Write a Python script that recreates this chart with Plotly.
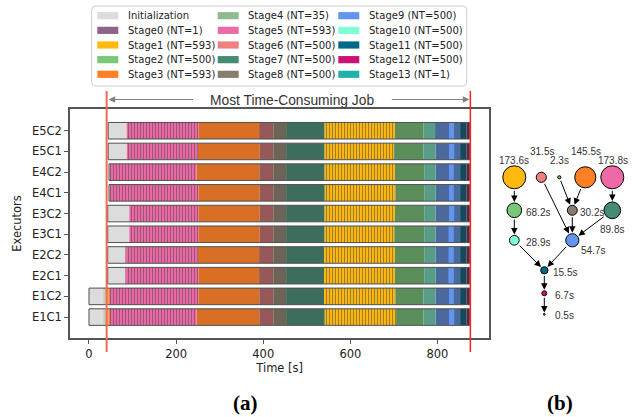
import plotly.graph_objects as go

# ---------------- data ----------------
executors = ["E1C1", "E1C2", "E2C1", "E2C2", "E3C1", "E3C2", "E4C1", "E4C2", "E5C1", "E5C2"]

stages = ["Initialization", "Stage0", "Stage1", "Stage2", "Stage3", "Stage4", "Stage5",
          "Stage6", "Stage7", "Stage8", "Stage9", "Stage10", "Stage11", "Stage12", "Stage13"]
num_tasks = [None, 1, 593, 500, 593, 35, 593, 500, 500, 500, 500, 500, 500, 500, 1]
stage_colors = ["#dcdcdc", "#8b638b", "#ffb90f", "#78c878", "#ff7f24", "#8fbc8f", "#ee6aa7",
                "#f08080", "#458b74", "#8b7d6b", "#6495ed", "#7fffd4", "#00688b", "#cd1076", "#20b2aa"]

# order in which stages run on every executor
stage_sequence = ["Initialization", "Stage5", "Stage3", "Stage6", "Stage8", "Stage7", "Stage1",
                  "Stage2", "Stage10", "Stage9", "Stage11", "Stage12", "Stage13"]

# stage boundaries per executor [s]
boundaries = {
    "E5C2": [44, 86.5, 251, 390.5, 423, 452.5, 540.5, 702.5, 767.5, 794.5, 852, 867, 873, 874.5],
    "E5C1": [44, 87, 250, 392, 423, 452.5, 540.5, 700.5, 768, 796, 852, 867, 873, 874.5],
    "E4C2": [46, 48, 247, 391, 423, 452.5, 540.5, 702.5, 769.5, 796, 852, 867, 873, 874.5],
    "E4C1": [46, 48, 251, 392, 423, 452.5, 541, 703.5, 769.5, 796, 852, 867, 873, 874.5],
    "E3C2": [43, 92.5, 251, 392, 423, 452.5, 540.5, 702.5, 769.5, 796, 852, 867, 873, 874.5],
    "E3C1": [43, 92.5, 251, 392, 423, 452.5, 540.5, 701, 769.5, 796, 852, 867, 873, 874.5],
    "E2C2": [43, 83.5, 250, 390.5, 423, 452.5, 539.5, 702.5, 769.5, 796, 852, 867, 873, 874.5],
    "E2C1": [43, 83.5, 251, 390.5, 423, 452.5, 539.5, 702.5, 769.5, 796, 852, 867, 873, 874.5],
    "E1C2": [0, 46, 251, 391, 423, 452.5, 539.5, 703.5, 768, 796, 852, 867, 873, 874.5],
    "E1C1": [0, 46, 247, 391, 423, 452.5, 541, 705, 768, 796, 852, 867, 873, 874.5],
}

# extra blocks drawn on top: (executor, stage, start, end, many_short_tasks)
extra_blocks = [
    ("E1C2", "Initialization", 33, 38.5, 1), ("E1C2", "Stage1", 38.5, 46, 0),
    ("E1C1", "Initialization", 33, 40.5, 1), ("E1C1", "Stage1", 40.5, 46, 0),
    ("E5C2", "Stage9", 826.5, 838, 0), ("E5C1", "Stage9", 826.5, 838.5, 0),
    ("E4C2", "Stage9", 826.5, 837.5, 0), ("E4C1", "Stage9", 826.5, 837.5, 0),
    ("E3C2", "Stage9", 826.5, 838.5, 0), ("E3C1", "Stage9", 825.5, 837.5, 0),
    ("E2C2", "Stage9", 825.5, 837.5, 0), ("E2C1", "Stage9", 825, 837.5, 0),
    ("E1C2", "Stage9", 826.5, 837.5, 0), ("E1C1", "Stage9", 826.5, 838.5, 0),
]

job_start, job_end = 40.5, 875.5
x_ticks = [0, 200, 400, 600, 800]

# stage DAG (panel b)
dag_nodes = ["Stage1", "Stage6", "Stage4", "Stage3", "Stage5", "Stage2", "Stage8", "Stage7",
             "Stage10", "Stage9", "Stage11", "Stage12", "Stage13"]
dag_time = [173.6, 31.5, 2.3, 145.5, 173.8, 68.2, 30.2, 89.8, 28.9, 54.7, 15.5, 6.7, 0.5]
dag_x = [0, 2.7, 4.5, 7.1, 9.8, 0, 5.8, 9.8, 0, 5.8, 3.0, 3.0, 3.0]
dag_y = [0, 0, 0, 0, 0, 3.3, 3.3, 3.3, 6.3, 6.3, 9.3, 11.6, 13.7]
dag_edges = [("Stage1", "Stage2"), ("Stage2", "Stage10"), ("Stage10", "Stage11"),
             ("Stage6", "Stage9"), ("Stage4", "Stage8"), ("Stage3", "Stage8"),
             ("Stage5", "Stage7"), ("Stage8", "Stage9"), ("Stage7", "Stage9"),
             ("Stage9", "Stage11"), ("Stage11", "Stage12"), ("Stage12", "Stage13")]

# ---------------- style ----------------
W, H = 641, 417
DARK = (40, 40, 40)
shade = {"Initialization": 0.1, "Stage0": 0.3, "Stage1": 0.16, "Stage2": 0.36, "Stage3": 0.18,
         "Stage4": 0.3, "Stage5": 0.17, "Stage6": 0.45, "Stage7": 0.3, "Stage8": 0.3,
         "Stage9": 0.4, "Stage10": 0.45, "Stage11": 0.47, "Stage12": 0.6, "Stage13": 0.3}
striped = {"Stage5": (3, 0.35, 0.02, 0.45), "Stage1": (3, 0.35, 0.02, 0.45)}
color_of = dict(zip(stages, stage_colors))


def mix(hexc, k):
    rgb = [int(hexc[i:i + 2], 16) for i in (1, 3, 5)]
    return "#%02x%02x%02x" % tuple(round(c * (1 - k) + d * k) for c, d in zip(rgb, DARK))


def px(x):
    return x / W


def py(y):
    return 1 - y / H


fig = go.Figure()

# collect segments
main = []
for ex in executors:
    b = boundaries[ex]
    for i, st in enumerate(stage_sequence):
        main.append((ex, st, b[i], b[i + 1], 0 if st == "Initialization" else 1))


def add_segments(segs):
    for st in stages:
        pts = [s for s in segs if s[1] == st]
        if not pts:
            continue
        cols, shapes, fgs, sizes, sols = [], [], [], [], []
        for s in pts:
            c = color_of[st]
            if s[4] and st in striped:
                sz, sol, kb, kf = striped[st]
                cols.append(mix(c, kb)); shapes.append("|"); fgs.append(mix(c, kf))
                sizes.append(sz); sols.append(sol)
            else:
                cols.append(mix(c, shade[st]) if s[4] else c)
                shapes.append(""); fgs.append(c); sizes.append(3); sols.append(0.3)
        fig.add_trace(go.Bar(
            orientation="h", y=[executors.index(s[0]) for s in pts],
            base=[s[2] for s in pts], x=[s[3] - s[2] for s in pts], width=0.8,
            marker=dict(color=cols, line=dict(width=0),
                        pattern=dict(shape=shapes, fgcolor=fgs, size=sizes, solidity=sols,
                                     fillmode="overlay")),
            name=st, showlegend=False,
            customdata=[[s[0], s[2], s[3]] for s in pts],
            hovertemplate="%{customdata[0]} " + st + "<br>%{customdata[1]}–%{customdata[2]} s<extra></extra>",
        ))


add_segments(main)
add_segments(extra_blocks)

# row outlines
starts = [boundaries[ex][0] for ex in executors]
ends = [boundaries[ex][-1] for ex in executors]
fig.add_trace(go.Bar(orientation="h", y=list(range(len(executors))), base=starts,
                     x=[e - s for s, e in zip(starts, ends)], width=0.8,
                     marker=dict(color="rgba(0,0,0,0)", line=dict(color="#505050", width=1)),
                     showlegend=False, hoverinfo="skip"))

# DAG
idx = {n: i for i, n in enumerate(dag_nodes)}
sizes = [1.7 * t ** 0.5 + 0.6 for t in dag_time]
fig.add_trace(go.Scatter(
    x=dag_x, y=dag_y, xaxis="x2", yaxis="y2", mode="markers",
    marker=dict(size=sizes, color=[color_of[n] for n in dag_nodes], line=dict(color="black", width=1),
                opacity=1),
    text=dag_nodes, customdata=dag_time, hovertemplate="%{text}: %{customdata}s<extra></extra>",
    showlegend=False))

annotations = []
for a, b in dag_edges:
    ia, ib = idx[a], idx[b]
    annotations.append(dict(
        x=dag_x[ib], y=dag_y[ib], ax=dag_x[ia], ay=dag_y[ia], xref="x2", yref="y2",
        axref="x2", ayref="y2", showarrow=True, arrowhead=2, arrowsize=1.3, arrowwidth=1,
        arrowcolor="black", standoff=sizes[ib] / 2 + 1, startstandoff=sizes[ia] / 2 + 0.5, text=""))

label_style = {  # anchor, dx, dy (px)
    "Stage1": ("center", 0, -16.6), "Stage6": ("center", 1, -25.6), "Stage4": ("center", 0, -16.6),
    "Stage3": ("center", 0.6, -25.6), "Stage5": ("center", 0.2, -16.6), "Stage2": ("left", 10, 2),
    "Stage8": ("left", 5.6, 2), "Stage7": ("center", 0, 19.3), "Stage10": ("left", 10, 2.7),
    "Stage9": ("left", 6.6, 10), "Stage11": ("left", 7, 2), "Stage12": ("left", 9, 2),
    "Stage13": ("left", 9, 1)}
for n, t, x, y in zip(dag_nodes, dag_time, dag_x, dag_y):
    anc, dx, dy = label_style[n]
    annotations.append(dict(x=x, y=y, xref="x2", yref="y2", text=f"{t}s", showarrow=False,
                            xanchor=anc, yanchor="middle", xshift=dx, yshift=-dy,
                            font=dict(family="Liberation Sans", size=10, color="#333")))

# job window markers
shapes = [
    dict(type="line", xref="x", yref="paper", x0=job_start, x1=job_start, y0=py(352), y1=py(91),
         line=dict(color="#f26a55", width=2)),
    dict(type="line", xref="x", yref="paper", x0=job_end, x1=job_end, y0=py(352), y1=py(91),
         line=dict(color="#ff2414", width=1.5)),
]
annotations += [
    dict(x=px(291.7), y=py(100), xref="paper", yref="paper", text="Most Time-Consuming Job",
         showarrow=False, xanchor="center", yanchor="middle",
         font=dict(family="Liberation Sans", size=13.8, color="#333")),
    dict(x=job_start, y=py(99.5), xref="x", yref="paper", ax=88, ay=0, text="", showarrow=True,
         arrowhead=2, arrowsize=1.3, arrowwidth=1, arrowcolor="#808080", standoff=2),
    dict(x=job_end, y=py(99.5), xref="x", yref="paper", ax=-80, ay=0, text="", showarrow=True,
         arrowhead=2, arrowsize=1.3, arrowwidth=1, arrowcolor="#808080", standoff=1),
    dict(x=px(245.7), y=py(402.5), xref="paper", yref="paper", text="<b>(a)</b>", showarrow=False,
         xanchor="center", yanchor="middle", font=dict(family="Liberation Serif", size=21, color="black")),
    dict(x=px(560), y=py(402.5), xref="paper", yref="paper", text="<b>(b)</b>", showarrow=False,
         xanchor="center", yanchor="middle", font=dict(family="Liberation Serif", size=21, color="black")),
]

# manual legend (3 columns x 5 rows)
lx0, ly0, lx1, ly1, r = 91.7, 6, 466.7, 86, 4
path = (f"M{px(lx0 + r)},{py(ly0)} L{px(lx1 - r)},{py(ly0)} Q{px(lx1)},{py(ly0)} {px(lx1)},{py(ly0 + r)} "
        f"L{px(lx1)},{py(ly1 - r)} Q{px(lx1)},{py(ly1)} {px(lx1 - r)},{py(ly1)} "
        f"L{px(lx0 + r)},{py(ly1)} Q{px(lx0)},{py(ly1)} {px(lx0)},{py(ly1 - r)} "
        f"L{px(lx0)},{py(ly0 + r)} Q{px(lx0)},{py(ly0)} {px(lx0 + r)},{py(ly0)} Z")
shapes.append(dict(type="path", xref="paper", yref="paper", path=path, fillcolor="white",
                   line=dict(color="#cccccc", width=1), layer="above"))
col_x = [97.3, 217.7, 338.3]
for i, (st, nt, c) in enumerate(zip(stages, num_tasks, stage_colors)):
    col, row = divmod(i, 5)
    yc = 15.7 + row * 14.65
    shapes.append(dict(type="rect", xref="paper", yref="paper", x0=px(col_x[col]), x1=px(col_x[col] + 21),
                       y0=py(yc + 3.6), y1=py(yc - 3.6), fillcolor=c, line=dict(width=0), layer="above"))
    label = st if nt is None else f"{st} (NT={nt})"
    annotations.append(dict(x=px(col_x[col] + 28.4), y=py(yc), xref="paper", yref="paper", text=label,
                            showarrow=False, xanchor="left", yanchor="middle",
                            font=dict(family="DejaVu Sans", size=10, color="#222")))

tick_font = dict(family="DejaVu Sans", size=11.5, color="#222")
fig.update_layout(
    width=W, height=H, margin=dict(l=0, r=0, t=0, b=0), paper_bgcolor="white", plot_bgcolor="white",
    barmode="overlay", showlegend=False, shapes=shapes, annotations=annotations,
    xaxis=dict(domain=[px(70), px(489.3)], range=[-43.6, 919], tickvals=x_ticks, ticks="outside",
               ticklen=4, tickcolor="#555", showline=True, mirror=True, linecolor="#555", linewidth=1.5,
               showgrid=False, zeroline=False, tickfont=tick_font, automargin=False,
               title=dict(text="Time [s]", font=tick_font, standoff=4)),
    yaxis=dict(domain=[py(338), py(109)], range=[-1.01, 10.05], tickvals=list(range(len(executors))),
               ticktext=executors, ticks="outside", ticklen=4, tickcolor="#555", showline=True,
               mirror=True, linecolor="#555", linewidth=1.5, showgrid=False, zeroline=False,
               tickfont=tick_font, automargin=False,
               title=dict(text="Executors", font=tick_font, standoff=8)),
    xaxis2=dict(domain=[px(494.3), px(634.3)], range=[-2, 12], visible=False, anchor="y2"),
    yaxis2=dict(domain=[py(327.3), py(147.3)], range=[15, -3], visible=False, anchor="x2"),
)

fig.write_html("out.html", config={"displayModeBar": False},
               post_script="document.body.style.margin='0px';document.body.style.overflow='hidden';")
